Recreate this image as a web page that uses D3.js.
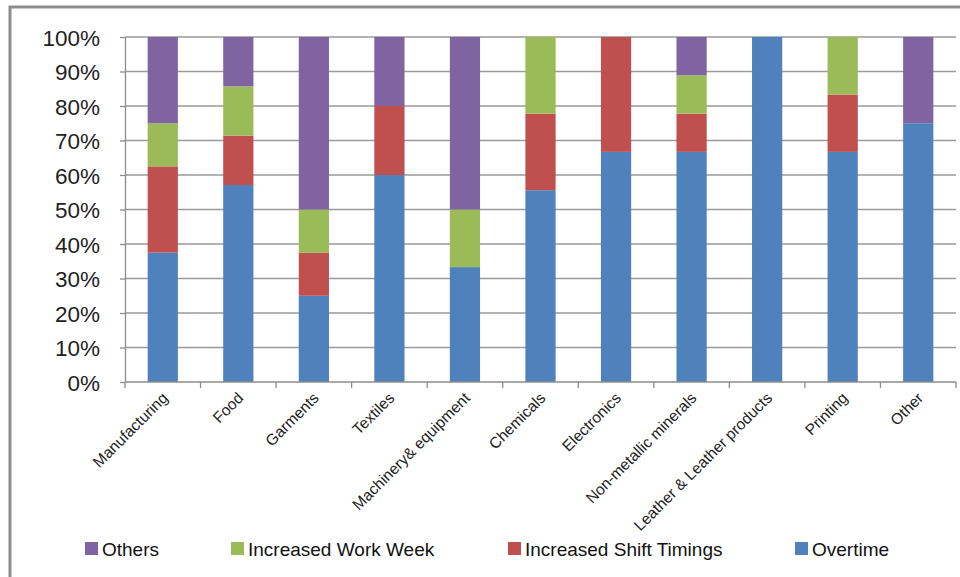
<!DOCTYPE html>
<html>
<head>
<meta charset="utf-8">
<script src="https://cdn.jsdelivr.net/npm/d3@7"></script>
<style>
  html, body { margin: 0; padding: 0; background: #fff; }
  svg { display: block; font-family: "Liberation Sans", Arial, sans-serif; }
</style>
</head>
<body>
<svg id="chart" width="960" height="577"></svg>
<script>
// Sectors surveyed
const categories = ["Manufacturing", "Food", "Garments", "Textiles", "Machinery& equipment",
  "Chemicals", "Electronics", "Non-metallic minerals", "Leather & Leather products", "Printing", "Other"];

// Share of firms (%) by response, stacked bottom to top
const overtime       = [37.5, 57.1, 25.0, 60.0, 33.3, 55.6, 66.7, 66.7, 100.0, 66.7, 75.0];
const shiftTimings   = [25.0, 14.3, 12.5, 20.0,  0.0, 22.2, 33.3, 11.1,   0.0, 16.6,  0.0];
const workWeek       = [12.5, 14.3, 12.5,  0.0, 16.7, 22.2,  0.0, 11.1,   0.0, 16.7,  0.0];
const others         = [25.0, 14.3, 50.0, 20.0, 50.0,  0.0,  0.0, 11.1,   0.0,  0.0, 25.0];

const seriesNames  = ["Overtime", "Increased Shift Timings", "Increased Work Week", "Others"];
const seriesColors = ["#4F81BD", "#C0504D", "#9BBB59", "#8064A2"];
const legendOrder  = ["Others", "Increased Work Week", "Increased Shift Timings", "Overtime"];
const yTicks = [0, 10, 20, 30, 40, 50, 60, 70, 80, 90, 100];

const svg = d3.select("#chart");
const plot = { left: 125, right: 956, top: 37, bottom: 382 };

// Outer frame
svg.append("rect")
  .attr("x", 10).attr("y", 7).attr("width", 970).attr("height", 600)
  .attr("fill", "none").attr("stroke", "#8c8c8c").attr("stroke-width", 3);

const rows = categories.map((c, i) => ({
  cat: c,
  "Overtime": overtime[i],
  "Increased Shift Timings": shiftTimings[i],
  "Increased Work Week": workWeek[i],
  "Others": others[i]
}));

const x = d3.scaleBand().domain(categories).range([plot.left, plot.right]).paddingInner(0.6).paddingOuter(0.3);
const xb = d3.scaleBand().domain(categories).range([plot.left, plot.right]);
const y = d3.scaleLinear().domain([0, 100]).range([plot.bottom, plot.top]);
const color = d3.scaleOrdinal().domain(seriesNames).range(seriesColors);

// Gridlines
svg.append("g")
  .selectAll("line").data(yTicks.filter(t => t > 0)).join("line")
  .attr("x1", plot.left).attr("x2", plot.right)
  .attr("y1", d => y(d)).attr("y2", d => y(d))
  .attr("stroke", "#9a9a9a").attr("stroke-width", 1.3);

// Stacked bars
const stack = d3.stack().keys(seriesNames)(rows);
svg.append("g")
  .selectAll("g").data(stack).join("g")
  .attr("fill", d => color(d.key))
  .selectAll("rect").data(d => d.filter(s => s[1] - s[0] > 0)).join("rect")
  .attr("x", d => x(d.data.cat))
  .attr("width", x.bandwidth())
  .attr("y", d => y(Math.min(100, d[1])))
  .attr("height", d => y(d[0]) - y(Math.min(100, d[1])));

// Y axis
const yAxis = svg.append("g")
  .attr("transform", `translate(${plot.left},0)`)
  .call(d3.axisLeft(y).tickValues(yTicks).tickFormat(d => d + "%").tickSize(5).tickSizeOuter(0));
yAxis.select(".domain").attr("stroke", "#8c8c8c").attr("stroke-width", 1.3);
yAxis.selectAll(".tick line").attr("stroke", "#8c8c8c").attr("stroke-width", 1.3);
yAxis.selectAll(".tick text")
  .attr("x", -25).attr("dy", "0.36em")
  .attr("font-size", 22.5).attr("fill", "#222")
  .style("font-family", "'Liberation Sans', Arial, sans-serif");

// X axis: baseline and boundary ticks
const xg = svg.append("g");
xg.append("line")
  .attr("x1", plot.left).attr("x2", plot.right).attr("y1", plot.bottom).attr("y2", plot.bottom)
  .attr("stroke", "#8c8c8c").attr("stroke-width", 1.3);
xg.selectAll("line.tk").data(categories.concat([null])).join("line")
  .attr("class", "tk")
  .attr("x1", (d, i) => plot.left + i * xb.bandwidth())
  .attr("x2", (d, i) => plot.left + i * xb.bandwidth())
  .attr("y1", plot.bottom).attr("y2", plot.bottom + 6)
  .attr("stroke", "#8c8c8c").attr("stroke-width", 1.3);
xg.selectAll("text").data(categories).join("text")
  .attr("transform", d => `translate(${xb(d) + xb.bandwidth() / 2 + 6},${plot.bottom + 17}) rotate(-45)`)
  .attr("text-anchor", "end")
  .attr("font-size", 15.5).attr("fill", "#222")
  .text(d => d);

// Legend
const legendX = [85, 231, 508, 795];
const lg = svg.append("g").selectAll("g").data(legendOrder).join("g")
  .attr("transform", (d, i) => `translate(${legendX[i]},542)`);
lg.append("rect").attr("width", 13).attr("height", 13).attr("fill", d => color(d));
lg.append("text").attr("x", 17).attr("y", 13.5)
  .attr("font-size", 19).attr("fill", "#111").text(d => d);
</script>
</body>
</html>
